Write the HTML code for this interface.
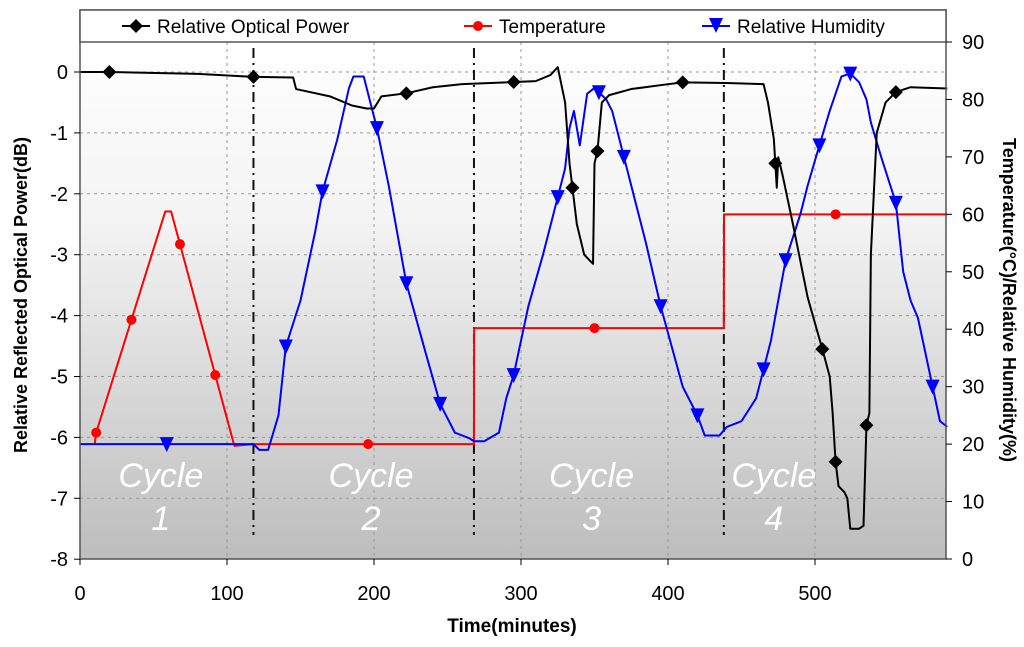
<!DOCTYPE html>
<html><head><meta charset="utf-8">
<style>
body{margin:0;background:#fff;}
svg{display:block;font-family:"Liberation Sans",Arial,sans-serif;}
</style></head>
<body>
<svg id="chart" width="1024" height="647" viewBox="0 0 1024 647">
<defs>
<linearGradient id="bg" x1="0" y1="0" x2="0" y2="1">
<stop offset="0" stop-color="#ffffff"/><stop offset="0.35" stop-color="#f3f3f3"/><stop offset="1" stop-color="#bdbdbd"/>
</linearGradient>
</defs>
<g id="plot"></g>
</svg>
<script>
const powerT=[0,20,80,118,145,147,170,185,195,200,205,222,240,260,290,310,320,325,330,333,335,338,343,347,349,350,352,355,360,375,400,410,440,465,468,472,474,475,478,485,495,505,510,512,514,516,520,522,524,530,533,535,537,538,542,548,555,565,590];
const powerV=[0,0,-0.03,-0.08,-0.09,-0.28,-0.4,-0.55,-0.6,-0.6,-0.4,-0.35,-0.25,-0.2,-0.17,-0.15,-0.05,0.08,-0.5,-1.5,-1.9,-2.5,-3.0,-3.1,-3.15,-1.5,-1.3,-0.5,-0.38,-0.28,-0.2,-0.17,-0.18,-0.2,-0.5,-1.1,-1.9,-1.4,-1.7,-2.5,-3.7,-4.55,-5.0,-5.6,-6.4,-6.8,-6.9,-7.0,-7.5,-7.5,-7.45,-5.8,-5.6,-3.0,-1.0,-0.5,-0.33,-0.25,-0.27];
const powerMarks=[20,118,222,295,335,352,410,473,505,514,535,555];
const tempT=[10,11,58,62,105,118,268,268.1,438,438.1,590];
const tempV=[20,22,60.5,60.5,19.7,20,20,40.2,40.2,60,60];
const tempMarks=[11,35,68,92,196,350,514];
const humT=[0,118,122,128,135,140,150,160,165,175,183,186,193,197,202,210,222,235,245,255,265,268,275,285,290,295,305,315,320,325,330,333,336,340,345,350,358,362,370,385,395,410,420,425,435,440,450,460,465,470,475,480,490,495,503,510,518,524,530,535,538,545,555,560,565,570,580,585,590];
const humV=[20,20,19,19,25,37,45,57,64,73,82,84,84,80,75,65,48,36,27,22,21,20.5,20.5,22,28,32,44,53,58,63,68,75,78,72,81,82,80,78,70,55,44,30,25,21.5,21.5,23,24,28,33,38,45,52,60,65,72,78,84,84.5,83,80,76,70,62,50,45,42,30,24,23];
const humMarks=[59,140,165,202,222,245,295,325,353,370,395,420,465,480,503,524,555,580];
const xTicks=[0,100,200,300,400,500];
const yLTicks=[0,-1,-2,-3,-4,-5,-6,-7,-8];
const yRTicks=[0,10,20,30,40,50,60,70,80,90];
const cycleBounds=[118,268,438];
const cycleLabels=[{t:55,n:"1"},{t:198,n:"2"},{t:348,n:"3"},{t:472,n:"4"}];

const X0=80,X1=946,YT=42,YB=559,BOXT=10;
const x=t=>X0+t*(147/100);
const yL=v=>72-v*60.9;
const yR=v=>YB-v*(YB-YT)/90;
const NS="http://www.w3.org/2000/svg";
const g=document.getElementById('plot');
function mk(tag,attrs,parent){const e=document.createElementNS(NS,tag);for(const k in attrs)e.setAttribute(k,attrs[k]);(parent||g).appendChild(e);return e;}
function interp(T,V,t){for(let i=1;i<T.length;i++){if(t<=T[i]){const f=(t-T[i-1])/(T[i]-T[i-1]||1);return V[i-1]+f*(V[i]-V[i-1]);}}return V[V.length-1];}

let r=mk('rect',{x:X0,y:YT,width:X1-X0,height:YB-YT,fill:'url(#bg)'});


xTicks.forEach(t=>{if(t===0)return;const l=mk('line',{x1:x(t),x2:x(t),y1:YT,y2:YB,stroke:'#999','stroke-dasharray':'3,4','stroke-width':1});

});
yLTicks.forEach(v=>{if(v===-8)return;const l=mk('line',{x1:X0,x2:X1,y1:yL(v),y2:yL(v),stroke:'#999','stroke-dasharray':'3,4','stroke-width':1});

});
cycleBounds.forEach(t=>{const l=mk('line',{x1:x(t),x2:x(t),y1:48,y2:535,stroke:'#111','stroke-width':2,'stroke-dasharray':'10,5,2,5'});

});
cycleLabels.forEach(c=>{const t1=mk('text',{x:x(c.t),y:487,fill:'#fff','font-size':34,'font-style':'italic','text-anchor':'middle'});t1.textContent='Cycle';


const t2=mk('text',{x:x(c.t),y:530,fill:'#fff','font-size':34,'font-style':'italic','text-anchor':'middle'});t2.textContent=c.n;

});
function line(T,V,fy,color,name){const p=mk('polyline',{points:T.map((t,i)=>x(t)+','+fy(V[i])).join(' '),fill:'none',stroke:color,'stroke-width':2,'stroke-linejoin':'round'});

}
line(tempT,tempV,yR,'#f00','temperature-line');
line(humT,humV,yR,'#00f','humidity-line');
line(powerT,powerV,yL,'#000','optical-power-line');
function diamond(cx,cy,c){return mk('polygon',{points:`${cx},${cy-7} ${cx+7},${cy} ${cx},${cy+7} ${cx-7},${cy}`,fill:c});}
function circ(cx,cy,c){return mk('circle',{cx:cx,cy:cy,r:5,fill:c});}
function tri(cx,cy,c){return mk('polygon',{points:`${cx-7},${cy-7} ${cx+7},${cy-7} ${cx},${cy+8}`,fill:c});}
tempMarks.forEach(t=>{const m=circ(x(t),yR(interp(tempT,tempV,t)),'#f00');

});
humMarks.forEach(t=>{const m=tri(x(t),yR(interp(humT,humV,t)),'#00f');

});
powerMarks.forEach(t=>{const m=diamond(x(t),yL(interp(powerT,powerV,t)),'#000');

});
let fr=mk('rect',{x:X0,y:BOXT,width:X1-X0,height:YB-BOXT,fill:'none',stroke:'#555','stroke-width':1.5});


let lb=mk('rect',{x:X0,y:BOXT,width:X1-X0,height:YT-BOXT,fill:'#fff',stroke:'#555','stroke-width':1.5});


const lg=[{x0:122,label:'Relative Optical Power',c:'#000',f:diamond,n:'legend-optical-power'},{x0:464,label:'Temperature',c:'#f00',f:circ,n:'legend-temperature'},{x0:702,label:'Relative Humidity',c:'#00f',f:tri,n:'legend-humidity'}];
lg.forEach(e=>{mk('line',{x1:e.x0,x2:e.x0+28,y1:26,y2:26,stroke:e.c,'stroke-width':2});e.f(e.x0+14,e.c===('#00f')?25:26,e.c);
const t=mk('text',{x:e.x0+35,y:33,'font-size':19,fill:'#000'});t.textContent=e.label;

});
xTicks.forEach(t=>{mk('line',{x1:x(t),x2:x(t),y1:YB,y2:YB+6,stroke:'#000'});const tx=mk('text',{x:x(t),y:600,'font-size':20,'text-anchor':'middle'});tx.textContent=t;

});
yLTicks.forEach(v=>{mk('line',{x1:X0-6,x2:X0,y1:yL(v),y2:yL(v),stroke:'#000'});const tx=mk('text',{x:X0-12,y:yL(v)+7,'font-size':20,'text-anchor':'end'});tx.textContent=v;

});
yRTicks.forEach(v=>{mk('line',{x1:X1,x2:X1+6,y1:yR(v),y2:yR(v),stroke:'#000'});const tx=mk('text',{x:X1+16,y:yR(v)+7,'font-size':20});tx.textContent=v;

});
let xt=mk('text',{x:512,y:632,'font-size':19,'font-weight':'bold','text-anchor':'middle'});xt.textContent='Time(minutes)';


let yt=mk('text',{x:0,y:0,'font-size':18,'font-weight':'bold','text-anchor':'middle',transform:'translate(27,295) rotate(-90)'});yt.textContent='Relative Reflected Optical Power(dB)';


let yt2=mk('text',{x:0,y:0,'font-size':18,'font-weight':'bold','text-anchor':'middle',transform:'translate(1003,300) rotate(90)'});yt2.textContent='Temperature(°C)/Relative Humidity(%)';


</script>
</body></html>
